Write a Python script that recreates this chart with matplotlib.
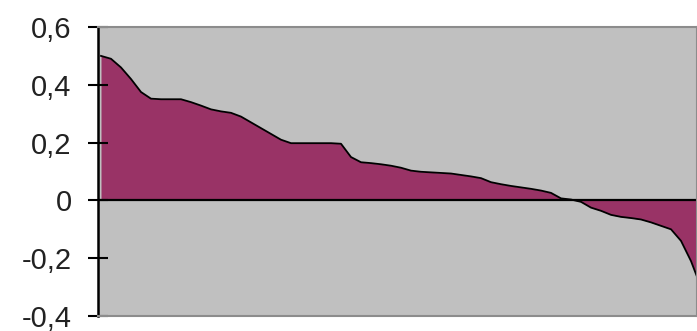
"""Area chart of a sorted deviation series on an Excel-style grey plot area."""
import matplotlib

matplotlib.use("Agg")

import matplotlib.pyplot as plt  # noqa: E402
from matplotlib.ticker import FixedLocator, FuncFormatter  # noqa: E402

# values, left to right, evenly spaced categories
values = [
    0.50, 0.49, 0.46, 0.42, 0.375, 0.352, 0.35, 0.35, 0.35, 0.34,
    0.328, 0.315, 0.308, 0.303, 0.29, 0.27, 0.25, 0.23, 0.21, 0.198,
    0.198, 0.198, 0.198, 0.198, 0.196, 0.15, 0.132, 0.129, 0.125, 0.12,
    0.113, 0.103, 0.099, 0.097, 0.095, 0.093, 0.088, 0.083, 0.077, 0.063,
    0.056, 0.05, 0.045, 0.04, 0.034, 0.026, 0.007, 0.003, -0.005, -0.025,
    -0.036, -0.05, -0.057, -0.061, -0.066, -0.076, -0.088, -0.1, -0.14, -0.21,
    -0.30,
]
y_ticks = [-0.4, -0.2, 0, 0.2, 0.4, 0.6]

PLUM = "#993366"
PLOT_BG = "#c0c0c0"

fig = plt.figure(figsize=(6.97, 3.31), dpi=100)
ax = fig.add_axes([98 / 697, 15 / 331, 1 - 98 / 697, 289 / 331])
ax.set_facecolor(PLOT_BG)

x = list(range(len(values)))
ax.fill_between(x, values, 0, color=PLUM, linewidth=0)
ax.plot(x, values, color="black", linewidth=1.3)
ax.axhline(0, color="black", linewidth=1.6)

ax.set_xlim(-0.3, 59.6)
ax.set_ylim(-0.4, 0.6)

ax.yaxis.set_major_locator(FixedLocator(y_ticks))
ax.yaxis.set_major_formatter(
    FuncFormatter(lambda v, _: "0" if abs(v) < 1e-9 else f"{v:.1f}".replace(".", ","))
)
ax.tick_params(axis="y", direction="inout", length=14, width=1.5, pad=12,
               labelsize=21, labelcolor="#222222")
for lbl in ax.get_yticklabels():
    lbl.set_family("Liberation Sans")
ax.set_xticks([])

for side in ("top", "bottom", "right"):
    ax.spines[side].set_color("#8c8c8c")
    ax.spines[side].set_linewidth(1.5)
ax.spines["left"].set_color("black")
ax.spines["left"].set_linewidth(1.8)

fig.savefig("out.png", dpi=100)
